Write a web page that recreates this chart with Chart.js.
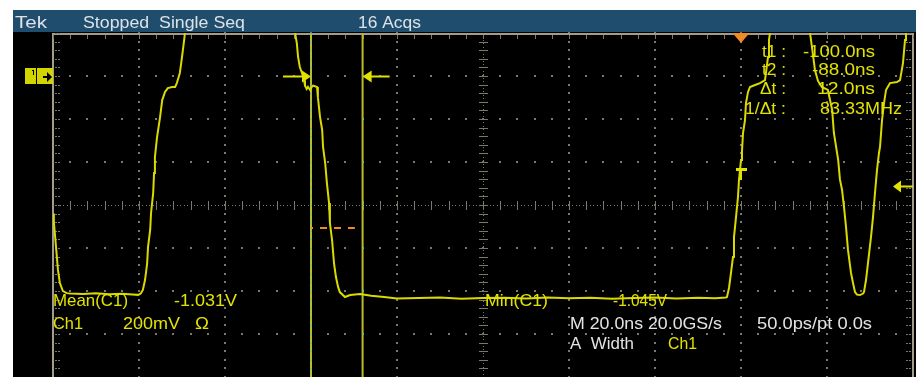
<!DOCTYPE html>
<html>
<head>
<meta charset="utf-8">
<script src="https://cdn.jsdelivr.net/npm/chart.js@4.4.0/dist/chart.umd.min.js"></script>
<style>
  html, body { margin: 0; padding: 0; background: #fff; }
  canvas { display: block; }
</style>
</head>
<body>
<canvas id="scope" width="916" height="377"></canvas>
<script>
// Waveform: [time ns, volts]. 20 ns/div, 200 mV/div.
// Points at 0.3 / 0.35 V are above the top of the screen (clipped).
const traceNsV = [
    [-160.0, -0.64], [-159.8, -0.68], [-159.3, -0.795], [-158.85, -0.902], [-158.4, -0.963],
    [-157.7, -1.000], [-156.8, -1.010], [-156.0, -1.012], [-153, -1.014], [-150, -1.011],
    [-147, -1.015], [-144, -1.013], [-141.5, -1.016], [-140.2, -1.018], [-139.6, -1.012],
    [-139.1, -0.995], [-138.6, -0.949], [-138.1, -0.870], [-137.9, -0.795], [-137.4, -0.716],
    [-137.2, -0.637], [-136.7, -0.544], [-136.5, -0.451], [-136.3, -0.377], [-135.8, -0.284],
    [-135.1, -0.191], [-134.6, -0.112], [-133.95, -0.074], [-133.3, -0.056], [-132.3, -0.051],
    [-131.6, -0.051], [-131.2, -0.033], [-130.5, 0.014], [-130.0, 0.088], [-129.5, 0.167],
    [-129.0, 0.26], [-128.5, 0.35],
    [-105.0, 0.35], [-104.2, 0.26], [-103.7, 0.2], [-103.3, 0.153], [-103.0, 0.088],
    [-102.6, 0.042], [-102.1, 0.014], [-101.6, -0.020], [-101.4, -0.045], [-101.0, -0.060],
    [-100.7, -0.050], [-100.2, -0.065], [-99.8, -0.050], [-99.5, -0.045], [-98.6, -0.051],
    [-98.4, -0.098], [-97.9, -0.191], [-97.4, -0.251], [-97.2, -0.330], [-96.7, -0.405],
    [-96.3, -0.498], [-95.8, -0.591], [-95.6, -0.684], [-95.1, -0.763], [-94.65, -0.870],
    [-94.2, -0.935], [-93.7, -0.981], [-93.3, -1.005], [-92.1, -1.028], [-90.9, -1.019],
    [-88.6, -1.014], [-86.0, -1.022], [-83.0, -1.028], [-80.0, -1.035],
    [-75, -1.033], [-70, -1.030], [-65, -1.036], [-60, -1.033], [-55, -1.031], [-50, -1.035],
    [-45, -1.030], [-40, -1.034], [-35, -1.031], [-30, -1.036], [-25, -1.032], [-20, -1.030],
    [-15, -1.035], [-10, -1.031], [-6, -1.034], [-3.5, -1.030],
    [-3.26, -1.028], [-2.79, -0.986], [-2.33, -0.916], [-1.86, -0.842], [-1.63, -0.749],
    [-1.16, -0.656], [-0.70, -0.563], [-0.47, -0.484], [0.0, -0.391], [0.23, -0.35],
    [0.47, -0.265], [0.93, -0.205], [1.16, -0.126], [1.63, -0.074], [2.09, -0.051],
    [3.26, -0.042], [4.42, -0.033], [5.58, -0.019], [6.28, 0.088], [6.51, 0.167],
    [6.74, 0.2], [7.2, 0.3],
    [15.5, 0.3], [16.05, 0.2], [16.5, 0.135], [17.2, 0.028], [17.9, -0.023], [18.8, -0.051],
    [20.2, -0.065], [21.2, -0.158], [21.6, -0.265], [22.6, -0.39], [23.0, -0.48], [23.5, -0.53],
    [23.95, -0.609], [24.42, -0.702], [24.88, -0.809], [25.58, -0.916], [26.05, -0.963],
    [26.51, -1.005], [26.98, -1.017], [27.67, -1.019], [28.37, -1.012], [28.6, -1.005],
    [29.07, -0.949], [29.53, -0.870], [30.23, -0.749], [30.7, -0.656], [31.16, -0.544],
    [31.63, -0.437], [32.09, -0.358], [32.33, -0.33], [32.8, -0.205], [33.26, -0.126],
    [33.72, -0.065], [34.65, -0.033], [36.28, -0.028], [36.98, -0.019], [37.67, 0.06],
    [38.14, 0.167], [38.37, 0.2], [38.6, 0.3]
];

// screen: 10 x 20 ns, 8 x 200 mV
const timeRange = [-160, 40];
const voltRange = [-1.4, 0.2];
const timeMajor = 20, timeMinor = 4;
const voltMajor = 0.2, voltMinor = 0.04;

const cursorNs = [-100, -88];
const triggerNs = 0;
const triggerLevelV = -0.51;
const refLevelV = 0;            // channel 1 marker / width arrows
const midRefV = -0.707;         // orange dashed reference
const midRefNs = [-100, -89.8];

const headerTexts = ['Tek', 'Stopped  Single Seq', '16 Acqs'];
const cursorLabels = ['t1 :', 't2 :', '\u0394t :', '1/\u0394t :'];
const cursorValues = ['-100.0ns', '-88.0ns', '12.0ns', '83.33MHz'];

const YEL = '#e2e200';
const TRACE = '#dada00';
const CURSOR = '#bcbc2a';
const GRID = '#7a7a6c';
const BORDER = '#a29c88';
const ORANGE = '#f08a26';

function fitText(c, s, x0, x1, base, color, size) {
    c.font = size + 'px "Liberation Sans", sans-serif';
    const w = c.measureText(s).width;
    c.save();
    c.translate(x0, base);
    c.scale((x1 - x0) / w, 1);
    c.fillStyle = color;
    c.textBaseline = 'alphabetic';
    c.fillText(s, 0, 0);
    c.restore();
}

function steps(a, b, st) {
    const out = [];
    const n = Math.round((b - a) / st);
    for (let i = 0; i <= n; i++) out.push(+(a + i * st).toFixed(4));
    return out;
}

let gridDots = [];

const scopePlugin = {
    id: 'scope',
    beforeDraw(chart) {
        const c = chart.ctx, W = chart.width, H = chart.height;
        c.save();
        c.fillStyle = '#fff';
        c.fillRect(0, 0, W, H);
        c.fillStyle = '#000';
        c.fillRect(13, 32, W - 13, H - 32);
        c.fillStyle = '#1f4d6d';
        c.fillRect(13, 10, W - 13, 22);
        fitText(c, headerTexts[0], 15, 47, 28, '#dde2e6', 17);
        fitText(c, headerTexts[1], 83, 245, 28, '#dde2e6', 17);
        fitText(c, headerTexts[2], 358, 421, 28, '#dde2e6', 17);
        c.restore();
    },
    beforeDatasetsDraw(chart) {
        const c = chart.ctx;
        const xs = chart.scales.x, ys = chart.scales.y;
        const X = v => xs.getPixelForValue(v), Y = v => ys.getPixelForValue(v);
        const { left, right, top, bottom } = chart.chartArea;
        const tMaj = steps(timeRange[0], timeRange[1], timeMajor);
        const tMin = steps(timeRange[0], timeRange[1], timeMinor);
        const vMaj = steps(voltRange[0], voltRange[1], voltMajor);
        const vMin = steps(voltRange[0], voltRange[1], voltMinor);
        const tMid = (timeRange[0] + timeRange[1]) / 2;
        const vMid = +((voltRange[0] + voltRange[1]) / 2).toFixed(4);
        gridDots = [];
        c.save();
        c.fillStyle = GRID;
        const dot = (t, v) => {
            const x = Math.round(X(t)), y = Math.round(Y(v));
            c.fillRect(x - 1, y - 1, 2, 2);
            gridDots.push([t, v]);
        };
        // dotted graticule
        tMaj.slice(1, -1).forEach(t => {
            if (t === tMid) return;
            vMin.forEach(v => dot(t, v));
        });
        vMaj.slice(1, -1).forEach(v => {
            if (v === vMid) return;
            tMin.forEach(t => dot(t, v));
        });
        // centre cross with fine dots and ticks
        const yc = Math.round(Y(vMid)), xc = Math.round(X(tMid));
        for (let x = left; x <= right; x += 3.44) c.fillRect(Math.round(x), yc, 1, 1);
        for (let y = top; y <= bottom; y += 3.44) c.fillRect(xc, Math.round(y), 1, 1);
        tMin.forEach(t => {
            const x = Math.round(X(t));
            c.fillRect(x, yc - 4, 1, 9);
            gridDots.push([t, vMid]);
        });
        vMin.forEach(v => {
            const y = Math.round(Y(v));
            c.fillRect(xc - 4, y, 9, 1);
        });
        // border with ticks
        c.fillStyle = BORDER;
        c.fillRect(Math.round(left) - 1, Math.round(top), 2, bottom - top);
        c.fillRect(Math.round(right) - 1, Math.round(top), 2, bottom - top);
        c.fillRect(Math.round(left), Math.round(top), right - left, 2);
        c.fillStyle = GRID;
        tMin.forEach(t => c.fillRect(Math.round(X(t)), Math.round(top) + 2, 1, 4));
        vMin.forEach(v => {
            const y = Math.round(Y(v));
            c.fillRect(Math.round(left) + 2, y, 2, 1);
            c.fillRect(Math.round(left) + 5, y, 2, 1);
            c.fillRect(Math.round(right) - 4, y, 2, 1);
            c.fillRect(Math.round(right) - 7, y, 2, 1);
        });
        c.restore();
    },
    afterDatasetsDraw(chart) {
        const c = chart.ctx;
        const xs = chart.scales.x, ys = chart.scales.y;
        const X = v => xs.getPixelForValue(v), Y = v => ys.getPixelForValue(v);
        const { left, right, top } = chart.chartArea;
        c.save();
        // cyan dots where graticule crosses the cursors
        c.fillStyle = '#3cc8c8';
        gridDots.forEach(([t, v]) => {
            if (cursorNs.includes(t)) c.fillRect(Math.round(X(t)) - 1, Math.round(Y(v)), 2, 1);
        });

        // width arrows on the cursors
        const ya = Math.round(Y(refLevelV)) + 0.5;
        const x1 = X(cursorNs[0]), x2 = X(cursorNs[1]);
        c.strokeStyle = YEL; c.fillStyle = YEL; c.lineWidth = 2;
        c.beginPath(); c.moveTo(x1 - 28, ya); c.lineTo(x1 - 6, ya); c.stroke();
        c.beginPath(); c.moveTo(x1, ya); c.lineTo(x1 - 9, ya - 6); c.lineTo(x1 - 9, ya + 6); c.closePath(); c.fill();
        c.beginPath(); c.moveTo(x2 + 6, ya); c.lineTo(x2 + 27, ya); c.stroke();
        c.beginPath(); c.moveTo(x2, ya); c.lineTo(x2 + 9, ya - 6); c.lineTo(x2 + 9, ya + 6); c.closePath(); c.fill();

        // trigger level arrow on the right
        const yt = Math.round(Y(triggerLevelV)) + 0.5;
        const tipX = right - 20;
        c.beginPath(); c.moveTo(tipX + 6, yt); c.lineTo(right, yt); c.stroke();
        c.beginPath(); c.moveTo(tipX, yt); c.lineTo(tipX + 8, yt - 6); c.lineTo(tipX + 8, yt + 6); c.closePath(); c.fill();

        // trigger point "T"
        const xT = Math.round(X(triggerNs));
        c.fillRect(xT - 5, 168, 11, 3);
        c.fillRect(xT - 1, 170, 2, 10);

        // trigger position marker (orange) at the top
        c.fillStyle = ORANGE;
        c.beginPath(); c.moveTo(xT - 8.5, top); c.lineTo(xT + 8.5, top); c.lineTo(xT, top + 10); c.closePath(); c.fill();

        // channel 1 marker
        const yc = Math.round(Y(refLevelV));
        c.fillStyle = '#d4d400';
        c.fillRect(25, yc - 8, left - 25, 16);
        c.fillStyle = '#000';
        c.fillRect(36, yc - 8, 1, 16);
        c.fillRect(33, yc - 6, 1, 5);
        c.fillRect(32, yc - 6, 1, 1);
        c.fillRect(43, yc, 6, 2);
        c.beginPath(); c.moveTo(52, yc + 1); c.lineTo(47, yc - 4); c.lineTo(47, yc + 6); c.closePath(); c.fill();

        // readouts
        fitText(c, 'Mean(C1)', 53, 128, 306, YEL, 17);
        fitText(c, '-1.031V', 174, 237, 306, YEL, 17);
        fitText(c, 'Ch1', 53, 83, 329, YEL, 17);
        fitText(c, '200mV', 123, 180, 329, YEL, 17);
        fitText(c, '\u03A9', 195, 209, 329, YEL, 17);
        fitText(c, 'Min(C1)', 485, 548, 306, YEL, 17);
        fitText(c, '-1.045V', 613, 667, 306, YEL, 17);
        fitText(c, 'M 20.0ns 20.0GS/s', 570, 722, 329, '#e4e4e4', 17);
        fitText(c, '50.0ps/pt 0.0s', 757, 872, 329, '#e4e4e4', 17);
        fitText(c, 'A  Width', 570, 634, 349, '#e4e4e4', 17);
        fitText(c, 'Ch1', 668, 697, 349, YEL, 17);

        const labelX = [762, 762, 760, 745];
        const valueX = [[803, 875], [812, 875], [817, 875], [820, 902]];
        const base = [57, 75, 94, 114];
        cursorLabels.forEach((s, i) => {
            fitText(c, s, labelX[i], 786, base[i], YEL, 16);
            fitText(c, cursorValues[i], valueX[i][0], valueX[i][1], base[i], YEL, 16);
        });
        c.restore();
    }
};

const ctx = document.getElementById('scope').getContext('2d');
const scopeChart = new Chart(ctx, {
    type: 'line',
    data: {
        datasets: [
            {
                label: 'Ch1',
                data: traceNsV.map(p => ({ x: p[0], y: p[1] })),
                borderColor: TRACE,
                borderWidth: 2,
                pointRadius: 0,
                tension: 0,
                clip: 0,
                order: 1
            },
            {
                label: 'cursor 1',
                data: [{ x: cursorNs[0], y: voltRange[0] }, { x: cursorNs[0], y: voltRange[1] }],
                borderColor: CURSOR,
                borderWidth: 2,
                pointRadius: 0,
                clip: 0,
                order: 3
            },
            {
                label: 'cursor 2',
                data: [{ x: cursorNs[1], y: voltRange[0] }, { x: cursorNs[1], y: voltRange[1] }],
                borderColor: CURSOR,
                borderWidth: 2,
                pointRadius: 0,
                clip: 0,
                order: 3
            },
            {
                label: 'mid ref',
                data: midRefNs.map(t => ({ x: t, y: midRefV })),
                borderColor: ORANGE,
                borderWidth: 2,
                borderDash: [7, 7],
                borderDashOffset: 5,
                pointRadius: 0,
                clip: 0,
                order: 2
            }
        ]
    },
    options: {
        responsive: false,
        animation: false,
        devicePixelRatio: 1,
        layout: { padding: { left: 53, right: 3, top: 33, bottom: 0 } },
        plugins: {
            legend: { display: false },
            tooltip: { enabled: false }
        },
        scales: {
            x: { type: 'linear', min: timeRange[0], max: timeRange[1], display: false },
            y: { type: 'linear', min: voltRange[0], max: voltRange[1], display: false }
        }
    },
    plugins: [scopePlugin]
});
</script>
</body>
</html>
